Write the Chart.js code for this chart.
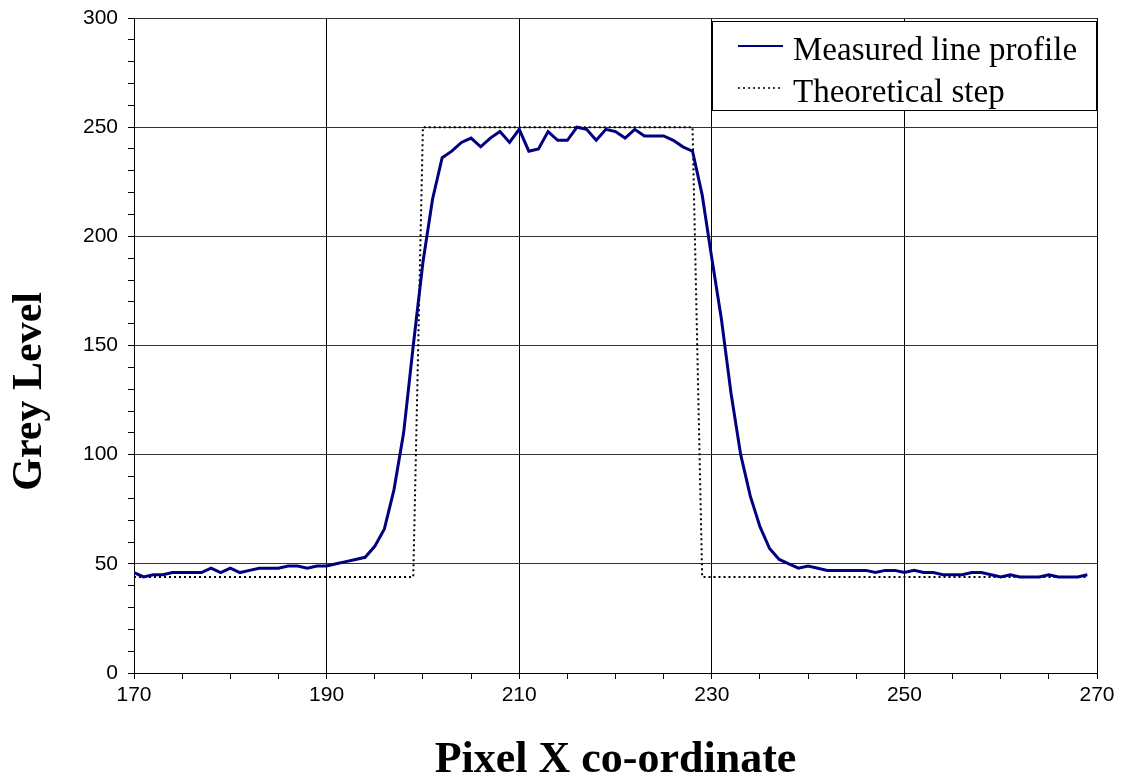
<!DOCTYPE html>
<html>
<head>
<meta charset="utf-8">
<script src="https://cdn.jsdelivr.net/npm/chart.js@4.4.1/dist/chart.umd.min.js"></script>
<style>
  html, body { margin: 0; padding: 0; background: #fff; }
  #wrap { width: 1132px; height: 783px; }
</style>
</head>
<body>
<div id="wrap"><canvas id="profileChart"></canvas></div>
<script>
// pixel positions along the profile
const xPixels = [
  170,171,172,173,174,175,176,177,178,179,180,181,182,183,184,185,186,187,188,189,
  190,191,192,193,194,195,196,197,198,199,200,201,202,203,204,205,206,207,208,209,
  210,211,212,213,214,215,216,217,218,219,220,221,222,223,224,225,226,227,228,229,
  230,231,232,233,234,235,236,237,238,239,240,241,242,243,244,245,246,247,248,249,
  250,251,252,253,254,255,256,257,258,259,260,261,262,263,264,265,266,267,268,269
];

// measured grey level
const measuredProfile = [
  46,44,45,45,46,46,46,46,48,46,48,46,47,48,48,48,49,49,48,49,
  49,50,51,52,53,58,66,84,110,150,188,217,236,239,243,245,241,245,248,243,
  249,239,240,248,244,244,250,249,244,249,248,245,249,246,246,246,244,241,239,219,
  190,162,128,100,81,67,57,52,50,48,49,48,47,47,47,47,47,46,47,47,
  46,47,46,46,45,45,45,46,46,45,44,45,44,44,44,45,44,44,44,45
];

// ideal step edge
const theoreticalStep = [
  44,44,44,44,44,44,44,44,44,44,44,44,44,44,44,44,44,44,44,44,
  44,44,44,44,44,44,44,44,44,44,250,250,250,250,250,250,250,250,250,250,
  250,250,250,250,250,250,250,250,250,250,250,250,250,250,250,250,250,250,250,44,
  44,44,44,44,44,44,44,44,44,44,44,44,44,44,44,44,44,44,44,44,
  44,44,44,44,44,44,44,44,44,44,44,44,44,44,44,44,44,44,44,44
];

const xTickLabels = [170, 190, 210, 230, 250, 270];
const yTickLabels = [0, 50, 100, 150, 200, 250, 300];

const serif = '"Liberation Serif", "Times New Roman", serif';
const sans = '"Liberation Sans", Arial, sans-serif';

// legend box drawn inside the plot, top right
const boxLegend = {
  id: 'boxLegend',
  afterDatasetsDraw(chart) {
    const ctx = chart.ctx;
    const area = chart.chartArea;
    const w = 385, h = 90;
    const x0 = area.right - w, y0 = area.top + 3;
    ctx.save();
    ctx.fillStyle = '#fff';
    ctx.fillRect(x0, y0, w, h);
    ctx.strokeStyle = '#000';
    ctx.lineWidth = 1;
    ctx.strokeRect(x0 + 0.5, y0 + 0.5, w - 1, h - 1);
    ctx.font = '33px ' + serif;
    ctx.textBaseline = 'alphabetic';
    chart.data.datasets.forEach((ds, i) => {
      const cy = y0 + 25 + i * 42;
      ctx.beginPath();
      ctx.strokeStyle = ds.borderColor;
      ctx.lineWidth = ds.legendWidth;
      ctx.setLineDash(ds.borderDash || []);
      ctx.moveTo(x0 + 26, cy);
      ctx.lineTo(x0 + 71, cy);
      ctx.stroke();
      ctx.setLineDash([]);
      ctx.fillStyle = '#000';
      ctx.fillText(ds.label, x0 + 81, cy + 14);
    });
    ctx.restore();
  }
};

// y axis title, sits a bit below the middle of the axis as in the original
const yTitle = {
  id: 'yTitle',
  afterDraw(chart) {
    const ctx = chart.ctx;
    const area = chart.chartArea;
    ctx.save();
    ctx.translate(30, area.top + (area.bottom - area.top) * 0.57);
    ctx.rotate(-Math.PI / 2);
    ctx.font = 'bold 42px ' + serif;
    ctx.fillStyle = '#000';
    ctx.textAlign = 'center';
    ctx.textBaseline = 'middle';
    ctx.fillText('Grey Level', 0, 0);
    ctx.restore();
  }
};

let ctxProfile = document.getElementById('profileChart').getContext('2d');

let chartProfile = new Chart(ctxProfile, {
  type: 'line',
  data: {
    datasets: [{
      label: 'Measured line profile',
      data: xPixels.map((x, i) => ({ x: x, y: measuredProfile[i] })),
      borderColor: '#000080',
      borderWidth: 3,
      legendWidth: 2,
      pointRadius: 0,
      tension: 0,
      fill: false
    }, {
      label: 'Theoretical step',
      data: xPixels.map((x, i) => ({ x: x, y: theoreticalStep[i] })),
      borderColor: '#000',
      borderWidth: 2,
      legendWidth: 1.5,
      borderDash: [2, 3],
      pointRadius: 0,
      tension: 0,
      fill: false
    }]
  },
  options: {
    responsive: true,
    maintainAspectRatio: false,
    animation: false,
    layout: {
      padding: { left: 0, right: 35, top: 18, bottom: 0 }
    },
    plugins: {
      legend: { display: false },
      tooltip: { enabled: false }
    },
    scales: {
      x: {
        type: 'linear',
        min: 170,
        max: 270,
        afterFit: function(scale) {
          scale.height = 110;
          scale.paddingLeft = 0;
          scale.paddingRight = 0;
        },
        border: { display: true, color: '#000', width: 1 },
        grid: {
          color: c => xTickLabels.includes(c.tick.value) ? '#000' : 'rgba(0,0,0,0)',
          tickColor: '#000',
          tickLength: 6,
          drawTicks: true
        },
        ticks: {
          stepSize: 5,
          autoSkip: false,
          maxRotation: 0,
          padding: 4,
          color: '#000',
          font: { family: sans, size: 21 },
          callback: v => xTickLabels.includes(v) ? String(v) : ''
        },
        title: {
          display: true,
          text: 'Pixel X co-ordinate',
          color: '#000',
          font: { family: serif, size: 44, weight: 'bold', lineHeight: 1.0 },
          padding: { top: 0, bottom: 0 }
        }
      },
      y: {
        min: 0,
        max: 300,
        afterFit: function(scale) {
          scale.width = 134;
          scale.paddingTop = 0;
          scale.paddingBottom = 0;
        },
        border: { display: true, color: '#000', width: 1 },
        grid: {
          color: c => yTickLabels.includes(c.tick.value) ? '#333' : 'rgba(0,0,0,0)',
          tickColor: '#000',
          tickLength: 6,
          drawTicks: true
        },
        ticks: {
          stepSize: 10,
          autoSkip: false,
          padding: 10,
          color: '#000',
          font: { family: sans, size: 21 },
          callback: v => yTickLabels.includes(v) ? String(v) : ''
        }
      }
    }
  },
  plugins: [boxLegend, yTitle]
});
</script>
</body>
</html>
